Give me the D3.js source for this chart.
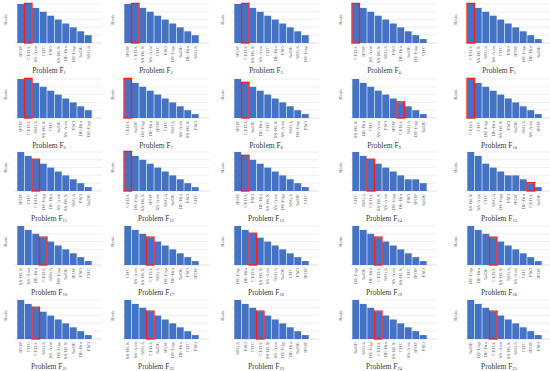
<!DOCTYPE html>
<html>
<head>
<meta charset="utf-8">
<script src="https://cdn.jsdelivr.net/npm/d3@7"></script>
<style>
  body { margin: 0; background: #fff; }
  svg { display: block; }
</style>
</head>
<body>
<svg id="chart"></svg>
<script>
const problemNumbers = d3.range(1, 26);

const algorithms = [
  ['IPOP', 'CEDA', 'SS-Arnt', 'CHC', 'PSO', 'SS-BLX', 'DE-Bin', 'DE-Exp', 'SaDE', 'SSGA'],
  ['IPOP', 'CEDA', 'SS-BLX', 'SS-Arnt', 'CHC', 'PSO', 'DE-Exp', 'SaDE', 'DE-Bin', 'SSGA'],
  ['IPOP', 'CEDA', 'SS-BLX', 'SS-Arnt', 'CHC', 'DE-Bin', 'PSO', 'SaDE', 'SSGA', 'DE-Exp'],
  ['CEDA', 'IPOP', 'SS-Arnt', 'SS-BLX', 'SSGA', 'PSO', 'DE-Bin', 'SaDE', 'DE-Exp', 'CHC'],
  ['CEDA', 'SS-BLX', 'SSGA', 'SS-Arnt', 'CHC', 'PSO', 'IPOP', 'DE-Exp', 'DE-Bin', 'SaDE'],
  ['IPOP', 'CEDA', 'SSGA', 'SS-BLX', 'CHC', 'SaDE', 'SS-Arnt', 'PSO', 'DE-Bin', 'DE-Exp'],
  ['CEDA', 'SaDE', 'DE-Exp', 'DE-Bin', 'IPOP', 'CHC', 'SSGA', 'SS-Arnt', 'SS-BLX', 'PSO'],
  ['IPOP', 'CEDA', 'SaDE', 'DE-Bin', 'CHC', 'SS-BLX', 'SS-Arnt', 'SSGA', 'DE-Exp', 'PSO'],
  ['SS-BLX', 'DE-Bin', 'CHC', 'SS-Arnt', 'PSO', 'IPOP', 'CEDA', 'SSGA', 'DE-Exp', 'SaDE'],
  ['CEDA', 'CHC', 'DE-Exp', 'DE-Bin', 'SS-BLX', 'PSO', 'SaDE', 'SSGA', 'SS-Arnt', 'IPOP'],
  ['IPOP', 'CHC', 'CEDA', 'DE-Exp', 'DE-Bin', 'SS-Arnt', 'SS-BLX', 'SSGA', 'PSO', 'SaDE'],
  ['CEDA', 'DE-Exp', 'SS-BLX', 'IPOP', 'SS-Arnt', 'SSGA', 'SaDE', 'DE-Bin', 'PSO', 'CHC'],
  ['IPOP', 'CEDA', 'PSO', 'DE-Bin', 'SS-BLX', 'SS-Arnt', 'DE-Exp', 'SSGA', 'SaDE', 'CHC'],
  ['CHC', 'SSGA', 'CEDA', 'SS-BLX', 'SS-Arnt', 'DE-Exp', 'DE-Bin', 'PSO', 'IPOP', 'SaDE'],
  ['SS-BLX', 'SS-Arnt', 'CHC', 'SSGA', 'DE-Exp', 'PSO', 'IPOP', 'DE-Bin', 'CEDA', 'SaDE'],
  ['SS-BLX', 'SS-Arnt', 'DE-Bin', 'CEDA', 'SSGA', 'DE-Exp', 'SaDE', 'IPOP', 'PSO', 'CHC'],
  ['CHC', 'SS-Arnt', 'SS-BLX', 'CEDA', 'SSGA', 'DE-Exp', 'DE-Bin', 'SaDE', 'PSO', 'IPOP'],
  ['DE-Exp', 'DE-Bin', 'CEDA', 'SS-BLX', 'SS-Arnt', 'SSGA', 'SaDE', 'CHC', 'PSO', 'IPOP'],
  ['DE-Exp', 'SaDE', 'DE-Bin', 'CEDA', 'SSGA', 'SS-Arnt', 'SS-BLX', 'CHC', 'IPOP', 'PSO'],
  ['DE-Exp', 'DE-Bin', 'SaDE', 'CEDA', 'SS-BLX', 'SSGA', 'SS-Arnt', 'CHC', 'PSO', 'IPOP'],
  ['IPOP', 'CHC', 'CEDA', 'SSGA', 'SS-Arnt', 'DE-Exp', 'SS-BLX', 'SaDE', 'DE-Bin', 'PSO'],
  ['SS-BLX', 'SS-Arnt', 'SSGA', 'CEDA', 'SaDE', 'IPOP', 'DE-Exp', 'DE-Bin', 'CHC', 'PSO'],
  ['SSGA', 'PSO', 'CHC', 'CEDA', 'SS-BLX', 'SS-Arnt', 'DE-Exp', 'DE-Bin', 'SaDE', 'IPOP'],
  ['SaDE', 'SSGA', 'DE-Exp', 'CEDA', 'DE-Bin', 'SS-BLX', 'CHC', 'SS-Arnt', 'IPOP', 'PSO'],
  ['SaDE', 'DE-Exp', 'DE-Bin', 'CEDA', 'SS-Arnt', 'SS-BLX', 'SSGA', 'CHC', 'IPOP', 'PSO']
];

const ranks = [
  [10, 10, 9, 8, 7, 6, 5, 4, 3, 2],
  [10, 10, 9, 8, 7, 6, 5, 4, 3, 2],
  [10, 10, 9, 8, 7, 6, 5, 4, 3, 2],
  [10, 9, 8, 7, 6, 5, 4, 3, 2, 1],
  [10, 9, 8, 7, 6, 5, 4, 3, 2, 1],
  [10, 10, 9, 8, 7, 6, 5, 4, 3, 2],
  [10, 9, 8, 7, 6, 5, 4, 3, 2, 1],
  [10, 9, 8, 7, 6, 5, 4, 3, 2, 1],
  [10, 9, 8, 7, 6, 5, 4, 3, 2, 1],
  [10, 9, 8, 7, 6, 5, 4, 3, 2, 1],
  [10, 9, 8, 7, 6, 5, 4, 3, 2, 1],
  [10, 9, 8, 7, 6, 5, 4, 3, 2, 1],
  [10, 9, 8, 7, 6, 5, 4, 3, 2, 1],
  [10, 9, 8, 7, 6, 5, 4, 3, 3, 2],
  [10, 9, 7, 6, 5, 4, 4, 3, 2, 1],
  [10, 9, 8, 7, 6, 5, 4, 3, 2, 1],
  [10, 9, 8, 7, 6, 5, 4, 3, 2, 1],
  [10, 9, 8, 7, 6, 5, 4, 3, 2, 1],
  [10, 9, 8, 7, 6, 5, 4, 3, 2, 1],
  [10, 9, 8, 7, 6, 5, 4, 3, 2, 1],
  [10, 9, 8, 7, 6, 5, 4, 3, 2, 1],
  [10, 9, 8, 7, 6, 5, 4, 3, 2, 1],
  [10, 9, 8, 7, 6, 5, 4, 3, 2, 1],
  [10, 9, 8, 7, 6, 5, 4, 3, 2, 1],
  [10, 9, 8, 7, 6, 5, 4, 3, 2, 1]
];

const rankTicks = [2, 4, 6, 8, 10];
const highlighted = 'CEDA';

const width = 550;
const height = 371;
const colLeft = [17, 124, 234, 352, 467];
const rowTop = [0, 75, 148, 222, 296];
const plotWidth = 75;
const plotTop = 4;
const plotBottom = 43;

const svg = d3.select('#chart').attr('width', width).attr('height', height);

problemNumbers.forEach((num, i) => {
  const col = i % 5;
  const row = Math.floor(i / 5);
  const g = svg.append('g')
    .attr('transform', `translate(${colLeft[col]}, ${rowTop[row]})`);

  const cats = algorithms[i];
  const vals = ranks[i];

  const x = d3.scaleBand().domain(cats).range([0, plotWidth]).paddingInner(0.08).paddingOuter(0.04);
  const y = d3.scaleLinear().domain([0, 10]).range([plotBottom, plotTop]);

  // grid
  g.selectAll('.grid')
    .data([0].concat(rankTicks))
    .enter()
    .append('line')
    .attr('x1', -2)
    .attr('x2', plotWidth + 10)
    .attr('y1', d => y(d))
    .attr('y2', d => y(d))
    .style('stroke', d => d === 0 ? '#cfcfcf' : '#e4e4e4')
    .style('stroke-width', 0.6);

  // bars
  g.selectAll('.bar')
    .data(cats)
    .enter()
    .append('rect')
    .attr('x', d => x(d))
    .attr('y', (d, j) => y(vals[j]))
    .attr('width', x.bandwidth())
    .attr('height', (d, j) => y(0) - y(vals[j]))
    .style('fill', '#4472c4');

  // highlight
  const hi = cats.indexOf(highlighted);
  if (hi >= 0) {
    g.append('rect')
      .attr('x', x(highlighted) - 0.3)
      .attr('y', y(vals[hi]) - 0.6)
      .attr('width', x.bandwidth() + 0.6)
      .attr('height', y(0) - y(vals[hi]) + 0.6)
      .style('fill', 'none')
      .style('stroke', '#ff1a1a')
      .style('stroke-width', 1.3);
  }

  // category labels
  g.selectAll('.cat')
    .data(cats)
    .enter()
    .append('text')
    .attr('transform', d => `translate(${x(d) + x.bandwidth() / 2 + 1.6}, ${plotBottom + 3}) rotate(-90)`)
    .attr('text-anchor', 'end')
    .style('font-family', 'Liberation Serif, serif')
    .style('font-size', '5px')
    .style('fill', '#666')
    .text(d => d);

  // axis title
  g.append('text')
    .attr('transform', `translate(-10, ${(plotTop + plotBottom) / 2 - 4}) rotate(-90)`)
    .attr('text-anchor', 'middle')
    .style('font-family', 'Liberation Serif, serif')
    .style('font-size', '5px')
    .style('fill', '#666')
    .text('Rank');

  // problem title
  const title = g.append('text')
    .attr('x', 32)
    .attr('y', 73)
    .attr('text-anchor', 'middle')
    .style('font-family', 'Liberation Serif, serif')
    .style('font-size', '7.5px')
    .style('fill', '#3a3a3a');
  title.append('tspan').text('Problem F');
  title.append('tspan')
    .attr('dy', '0.8')
    .style('font-size', '4.5px')
    .text(num);
});
</script>
</body>
</html>
